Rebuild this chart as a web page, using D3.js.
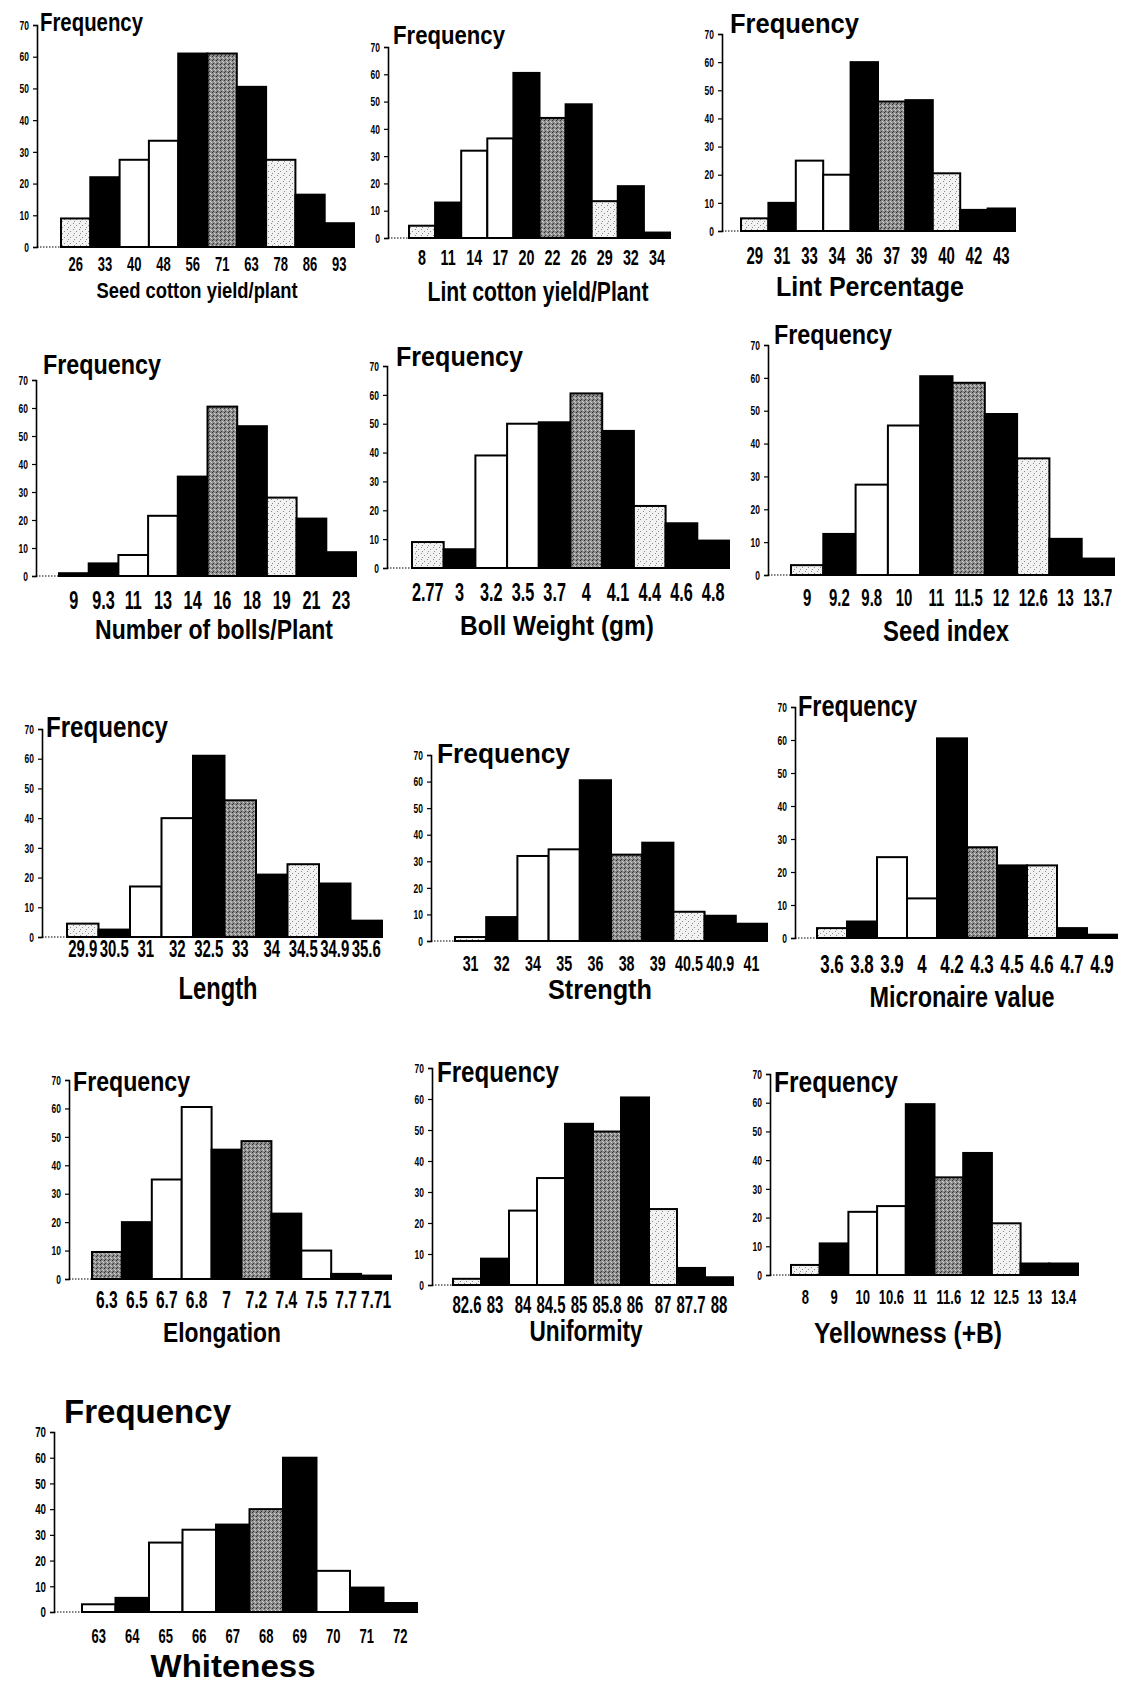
<!DOCTYPE html>
<html>
<head>
<meta charset="utf-8">
<script src="https://cdn.jsdelivr.net/npm/d3@7"></script>
<style>
  body { margin: 0; background: #fff; }
  svg text {
    font-family: "Liberation Sans", Arial, sans-serif;
    font-weight: bold;
    fill: #000;
  }
</style>
</head>
<body>
<div id="chart"></div>
<script>
// Frequency distributions of the cotton traits, one small histogram per trait.

const seedCats = ["26", "33", "40", "48", "56", "71", "63", "78", "86", "93"];
const seedFreq = [9, 22, 27.5, 33.5, 61, 61, 50.5, 27.5, 16.5, 7.5];

const lintYieldCats = ["8", "11", "14", "17", "20", "22", "26", "29", "32", "34"];
const lintYieldFreq = [4.5, 13, 32, 36.5, 60.5, 44, 49, 13.5, 19, 2];

const lintPctCats = ["29", "31", "33", "34", "36", "37", "39", "40", "42", "43"];
const lintPctFreq = [4.5, 10, 25, 20, 60, 46, 46.5, 20.5, 7.5, 8];

const bollsCats = ["9", "9.3", "11", "13", "14", "16", "18", "19", "21", "23"];
const bollsFreq = [1, 4.5, 7.5, 21.5, 35.5, 60.5, 53.5, 28, 20.5, 8.5];

const bollWtCats = ["2.77", "3", "3.2", "3.5", "3.7", "4", "4.1", "4.4", "4.6", "4.8"];
const bollWtFreq = [9, 6.5, 39, 50, 50.5, 60.5, 47.5, 21.5, 15.5, 9.5];

const seedIdxCats = ["9", "9.2", "9.8", "10", "11", "11.5", "12", "12.6", "13", "13.7"];
const seedIdxFreq = [3, 12.5, 27.5, 45.5, 60.5, 58.5, 49, 35.5, 11, 5];

const lengthCats = ["29.9", "30.5", "31", "32", "32.5", "33", "34", "34.5", "34.9", "35.6"];
const lengthFreq = [4.5, 2.5, 17, 40, 61, 46, 21, 24.5, 18, 5.5];

const strengthCats = ["31", "32", "34", "35", "36", "38", "39", "40.5", "40.9", "41"];
const strengthFreq = [1.5, 9, 32, 34.5, 60.5, 32.5, 37, 11, 9.5, 6.5];

const micCats = ["3.6", "3.8", "3.9", "4", "4.2", "4.3", "4.5", "4.6", "4.7", "4.9"];
const micFreq = [3, 5, 24.5, 12, 60.5, 27.5, 22, 22, 3, 1];

const elongCats = ["6.3", "6.5", "6.7", "6.8", "7", "7.2", "7.4", "7.5", "7.7", "7.71"];
const elongFreq = [9.5, 20, 35, 60.5, 45.5, 48.5, 23, 10, 1.8, 1.2];

const unifCats = ["82.6", "83", "84", "84.5", "85", "85.8", "86", "87", "87.7", "88"];
const unifFreq = [2, 8.5, 24, 34.5, 52, 49.5, 60.5, 24.5, 5.5, 2.5];

const yellowCats = ["8", "9", "10", "10.6", "11", "11.6", "12", "12.5", "13", "13.4"];
const yellowFreq = [3.5, 11, 22, 24, 59.5, 34, 42.5, 18, 4, 4];

const whiteCats = ["63", "64", "65", "66", "67", "68", "69", "70", "71", "72"];
const whiteFreq = [3, 5.5, 27, 32, 34, 40, 60, 16, 9.5, 3.5];

const yTicks = [0, 10, 20, 30, 40, 50, 60, 70];

// bar shading codes: B black, W white, G dark stipple, L light stipple
const shadeMain = ["L", "B", "W", "W", "B", "G", "B", "L", "B", "B"];
const shadeBolls = ["B", "B", "W", "W", "B", "G", "B", "L", "B", "B"];
const shadeElong = ["G", "B", "W", "W", "B", "G", "B", "W", "B", "B"];
const shadeWhite = ["W", "B", "W", "W", "B", "G", "B", "W", "B", "B"];

const W = 1125, H = 1684;
const SQUEEZE = 0.65;   // the scanned labels are set in a very narrow face

const panels = [
  { cats: seedCats, vals: seedFreq, shades: shadeMain, title: "Seed cotton yield/plant",
    axisX: 37, y70: 25, y0: 247, barL: 61, barR: 354, tickY: 264, tickSize: 20,
    titleX: 197, titleY: 290, titleW: 201, titleSize: 22, freqX: 40, freqY: 22, freqW: 103, freqSize: 25 },
  { cats: lintYieldCats, vals: lintYieldFreq, shades: shadeMain, title: "Lint cotton yield/Plant",
    axisX: 388, y70: 47, y0: 238, barL: 409, barR: 670, tickY: 257, tickSize: 22,
    titleX: 538, titleY: 292, titleW: 221, titleSize: 27, freqX: 393, freqY: 35, freqW: 112, freqSize: 26 },
  { cats: lintPctCats, vals: lintPctFreq, shades: shadeMain, title: "Lint Percentage",
    axisX: 722, y70: 34, y0: 231, barL: 741, barR: 1015, tickY: 256, tickSize: 23,
    titleX: 870, titleY: 286, titleW: 188, titleSize: 28, freqX: 730, freqY: 23, freqW: 129, freqSize: 28 },
  { cats: bollsCats, vals: bollsFreq, shades: shadeBolls, title: "Number of bolls/Plant",
    axisX: 36, y70: 380, y0: 576, barL: 59, barR: 356, tickY: 600, tickSize: 25,
    titleX: 214, titleY: 629, titleW: 238, titleSize: 28, freqX: 43, freqY: 364, freqW: 118, freqSize: 28 },
  { cats: bollWtCats, vals: bollWtFreq, shades: shadeMain, title: "Boll Weight (gm)",
    axisX: 387, y70: 366, y0: 568, barL: 412, barR: 729, tickY: 592, tickSize: 25,
    titleX: 557, titleY: 625, titleW: 194, titleSize: 28, freqX: 396, freqY: 356, freqW: 127, freqSize: 28 },
  { cats: seedIdxCats, vals: seedIdxFreq, shades: shadeMain, title: "Seed index",
    axisX: 768, y70: 345, y0: 575, barL: 791, barR: 1114, tickY: 598, tickSize: 23,
    titleX: 946, titleY: 630, titleW: 126, titleSize: 30, freqX: 774, freqY: 334, freqW: 118, freqSize: 28 },
  { cats: lengthCats, vals: lengthFreq, shades: shadeMain, title: "Length",
    axisX: 42, y70: 729, y0: 937, barL: 67, barR: 382, tickY: 949, tickSize: 23,
    titleX: 218, titleY: 988, titleW: 79, titleSize: 32, freqX: 46, freqY: 727, freqW: 122, freqSize: 29 },
  { cats: strengthCats, vals: strengthFreq, shades: shadeMain, title: "Strength",
    axisX: 431, y70: 755, y0: 941, barL: 455, barR: 767, tickY: 963, tickSize: 22,
    titleX: 600, titleY: 989, titleW: 104, titleSize: 28, freqX: 437, freqY: 753, freqW: 133, freqSize: 28 },
  { cats: micCats, vals: micFreq, shades: shadeMain, title: "Micronaire value",
    axisX: 795, y70: 707, y0: 938, barL: 817, barR: 1117, tickY: 964, tickSize: 26,
    titleX: 962, titleY: 996, titleW: 185, titleSize: 30, freqX: 798, freqY: 706, freqW: 119, freqSize: 29 },
  { cats: elongCats, vals: elongFreq, shades: shadeElong, title: "Elongation",
    axisX: 69, y70: 1080, y0: 1279, barL: 92, barR: 391, tickY: 1300, tickSize: 24,
    titleX: 222, titleY: 1332, titleW: 118, titleSize: 28, freqX: 73, freqY: 1082, freqW: 117, freqSize: 27 },
  { cats: unifCats, vals: unifFreq, shades: shadeMain, title: "Uniformity",
    axisX: 432, y70: 1068, y0: 1285, barL: 453, barR: 733, tickY: 1305, tickSize: 23,
    titleX: 586, titleY: 1331, titleW: 113, titleSize: 29, freqX: 437, freqY: 1072, freqW: 122, freqSize: 29 },
  { cats: yellowCats, vals: yellowFreq, shades: shadeMain, title: "Yellowness (+B)",
    axisX: 770, y70: 1074, y0: 1275, barL: 791, barR: 1078, tickY: 1297, tickSize: 20,
    titleX: 908, titleY: 1333, titleW: 188, titleSize: 29, freqX: 774, freqY: 1082, freqW: 124, freqSize: 29 },
  { cats: whiteCats, vals: whiteFreq, shades: shadeWhite, title: "Whiteness",
    axisX: 54, y70: 1432, y0: 1612, barL: 82, barR: 417, tickY: 1636, tickSize: 20,
    titleX: 233, titleY: 1666, titleW: 165, titleSize: 32, freqX: 64, freqY: 1411, freqW: 167, freqSize: 34 },
];

const svg = d3.select("#chart").append("svg")
  .attr("width", W)
  .attr("height", H);

// stipple textures for the shaded bars
const defs = svg.append("defs");
const gray = defs.append("pattern").attr("id", "stipGray")
  .attr("width", 4).attr("height", 4).attr("patternUnits", "userSpaceOnUse");
gray.append("rect").attr("width", 4).attr("height", 4).attr("fill", "#8e8e8e");
[[0, 0], [2, 1], [1, 3], [3, 2]].forEach(([x, y], i) =>
  gray.append("rect").attr("x", x).attr("y", y).attr("width", 1).attr("height", 1)
    .attr("fill", i % 2 ? "#d0d0d0" : "#333"));

const light = defs.append("pattern").attr("id", "stipLight")
  .attr("width", 6).attr("height", 6).attr("patternUnits", "userSpaceOnUse");
light.append("rect").attr("width", 6).attr("height", 6).attr("fill", "#f2f2f2");
[[1, 1], [4, 3], [2, 5]].forEach(([x, y]) =>
  light.append("rect").attr("x", x).attr("y", y).attr("width", 1).attr("height", 1).attr("fill", "#8c8c8c"));

const fills = { B: "#000", W: "#fff", G: "url(#stipGray)", L: "url(#stipLight)" };

panels.forEach(p => drawPanel(p));

function drawPanel(p) {
  const g = svg.append("g");

  const x = d3.scaleBand().domain(p.cats).range([p.barL, p.barR]).padding(0);
  const y = d3.scaleLinear().domain([0, 70]).range([p.y0, p.y70]);

  // dotted baseline between axis and first bar
  g.append("line")
    .attr("x1", p.axisX).attr("x2", p.barL)
    .attr("y1", p.y0).attr("y2", p.y0)
    .attr("stroke", "#000").attr("stroke-width", 1.2)
    .attr("stroke-dasharray", "1.5,1.5");

  g.append("g")
    .selectAll("rect")
    .data(p.vals)
    .join("rect")
    .attr("x", (d, i) => x(p.cats[i]))
    .attr("y", d => y(d))
    .attr("width", x.bandwidth())
    .attr("height", d => p.y0 - y(d))
    .attr("fill", (d, i) => fills[p.shades[i]])
    .attr("stroke", "#000")
    .attr("stroke-width", 2);

  const yAxis = g.append("g")
    .attr("transform", `translate(${p.axisX},0)`)
    .call(d3.axisLeft(y).tickValues(yTicks).tickSize(4).tickPadding(3));
  yAxis.select(".domain").attr("stroke-width", 1.6);
  yAxis.selectAll(".tick line").attr("stroke-width", 1.2);
  yAxis.selectAll("text")
    .attr("font-size", p.freqSize > 30 ? 15 : 13)
    .attr("font-family", null)
    .attr("transform", `scale(${SQUEEZE},1)`)
    .attr("x", -8 / SQUEEZE);

  const xAxis = g.append("g")
    .attr("transform", `translate(0,${p.tickY})`)
    .call(d3.axisBottom(x).tickSize(0).tickPadding(0));
  xAxis.select(".domain").remove();
  xAxis.selectAll("text")
    .attr("font-size", p.tickSize)
    .attr("font-family", null)
    .attr("y", 0)
    .attr("dy", "0.35em")
    .attr("transform", `scale(${SQUEEZE},1)`);

  g.append("text")
    .attr("x", p.freqX)
    .attr("y", p.freqY)
    .attr("dy", "0.35em")
    .attr("font-size", p.freqSize)
    .attr("textLength", p.freqW)
    .attr("lengthAdjust", "spacingAndGlyphs")
    .text("Frequency");

  g.append("text")
    .attr("x", p.titleX - p.titleW / 2)
    .attr("y", p.titleY)
    .attr("dy", "0.35em")
    .attr("font-size", p.titleSize)
    .attr("textLength", p.titleW)
    .attr("lengthAdjust", "spacingAndGlyphs")
    .text(p.title);
}
</script>
</body>
</html>
